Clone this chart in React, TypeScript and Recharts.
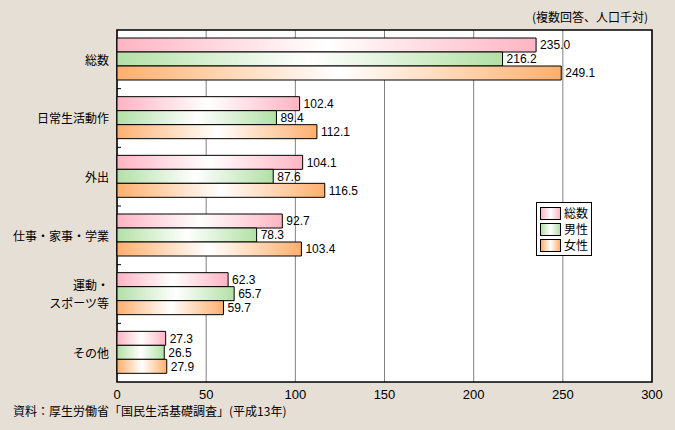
import { BarChart, Bar, XAxis, YAxis, CartesianGrid, LabelList, ReferenceArea, Legend } from "recharts"

const FONT = "'Noto Sans CJK JP', 'Noto Sans', sans-serif"
const NUM_FONT = "'Liberation Sans', Arial, sans-serif"

// values per 1,000 population (multiple answers)
const categories = ["総数", "日常生活動作", "外出", "仕事・家事・学業", "運動・\nスポーツ等", "その他"]
const totalValues = [235.0, 102.4, 104.1, 92.7, 62.3, 27.3]
const maleValues = [216.2, 89.4, 87.6, 78.3, 65.7, 26.5]
const femaleValues = [249.1, 112.1, 116.5, 103.4, 59.7, 27.9]
const xTicks = [0, 50, 100, 150, 200, 250, 300]
const seriesNames = ["総数", "男性", "女性"]

const chartData = categories.map((name, i) => ({
  name,
  total: totalValues[i],
  male: maleValues[i],
  female: femaleValues[i],
}))

const series = [
  { key: "total", name: seriesNames[0], color: "#FFB4C3", grad: "gradPink" },
  { key: "male", name: seriesNames[1], color: "#B3E0A6", grad: "gradGreen" },
  { key: "female", name: seriesNames[2], color: "#FFAF6E", grad: "gradOrange" },
]

function CategoryTick(props: any) {
  const { x, y, payload, index } = props
  const lines = String(payload.value).split("\n")
  const half = payload.offset ?? 29.3
  const axisX = x + 8
  const lineH = 17.5
  const startY = y + 1 - ((lines.length - 1) * lineH) / 2
  return (
    <g>
      {lines.map((l, i) => (
        <text
          key={i}
          x={x}
          y={startY + i * lineH}
          dy="0.35em"
          textAnchor="end"
          fontSize={12}
          fill="#000"
          fontFamily={FONT}
        >
          {l}
        </text>
      ))}
      {index > 0 && <line x1={axisX} x2={axisX + 4} y1={y - half} y2={y - half} stroke="#000" />}
    </g>
  )
}

function LegendBox() {
  return (
    <div
      style={{
        border: "1px solid #000",
        background: "#fff",
        padding: "2px 3px 2px 3px",
        fontFamily: FONT,
        fontSize: 12,
        lineHeight: "16px",
      }}
    >
      {series.map((s) => (
        <div key={s.key} style={{ display: "flex", alignItems: "center", height: 16 }}>
          <span
            style={{
              display: "inline-block",
              width: 19,
              height: 11,
              border: "1px solid #000",
              background: `linear-gradient(to right, ${s.color}, #fff 50%, ${s.color})`,
              marginRight: 3,
            }}
          />
          <span>{s.name}</span>
        </div>
      ))}
    </div>
  )
}

export default function App() {
  return (
    <div
      style={{
        position: "absolute",
        left: 0,
        top: 0,
        width: 675,
        height: 430,
        background: "#E6DFD6",
        fontFamily: FONT,
        overflow: "hidden",
      }}
    >
      <div style={{ position: "absolute", right: 27, top: 8, fontSize: 12, color: "#000" }}>
        (複数回答、人口千対)
      </div>
      <BarChart
        width={675}
        height={430}
        data={chartData}
        layout="vertical"
        margin={{ top: 30, right: 23, bottom: 28, left: 0 }}
        barSize={14}
        barGap={0}
      >
        <defs>
          {series.map((s) => (
            <linearGradient key={s.grad} id={s.grad} x1="0" y1="0" x2="1" y2="0">
              <stop offset="0%" stopColor={s.color} />
              <stop offset="50%" stopColor="#ffffff" />
              <stop offset="100%" stopColor={s.color} />
            </linearGradient>
          ))}
        </defs>
        <CartesianGrid horizontal={false} stroke="#808080" fill="#ffffff" />
        <XAxis
          type="number"
          domain={[0, 300]}
          ticks={xTicks}
          tickLine={false}
          axisLine={false}
          height={20}
          tick={{ fontSize: 13, fill: "#000", fontFamily: NUM_FONT }}
        />
        <YAxis
          type="category"
          dataKey="name"
          width={117}
          tickSize={6}
          tickMargin={2}
          tickLine={false}
          axisLine={false}
          interval={0}
          tick={<CategoryTick />}
        />
        {series.map((s) => (
          <Bar
            key={s.key}
            dataKey={s.key}
            name={s.name}
            fill={`url(#${s.grad})`}
            stroke="#000"
            strokeWidth={1}
            isAnimationActive={false}
          >
            <LabelList
              dataKey={s.key}
              position="right"
              offset={4}
              fontSize={12}
              fill="#000"
              fontFamily={NUM_FONT}
              formatter={(v: any) => Number(v).toFixed(1)}
            />
          </Bar>
        ))}
        <ReferenceArea x1={0} x2={300} fill="none" fillOpacity={0} stroke="#000" strokeWidth={1.5} ifOverflow="visible" />
        <Legend
          layout="vertical"
          align="center"
          verticalAlign="middle"
          wrapperStyle={{ position: "absolute", left: 536, top: 202, width: "auto", height: "auto" }}
          content={() => <LegendBox />}
        />
      </BarChart>
      <div style={{ position: "absolute", left: 13, top: 402, fontSize: 12, color: "#000" }}>
        資料：厚生労働省「国民生活基礎調査」(平成13年)
      </div>
    </div>
  )
}
